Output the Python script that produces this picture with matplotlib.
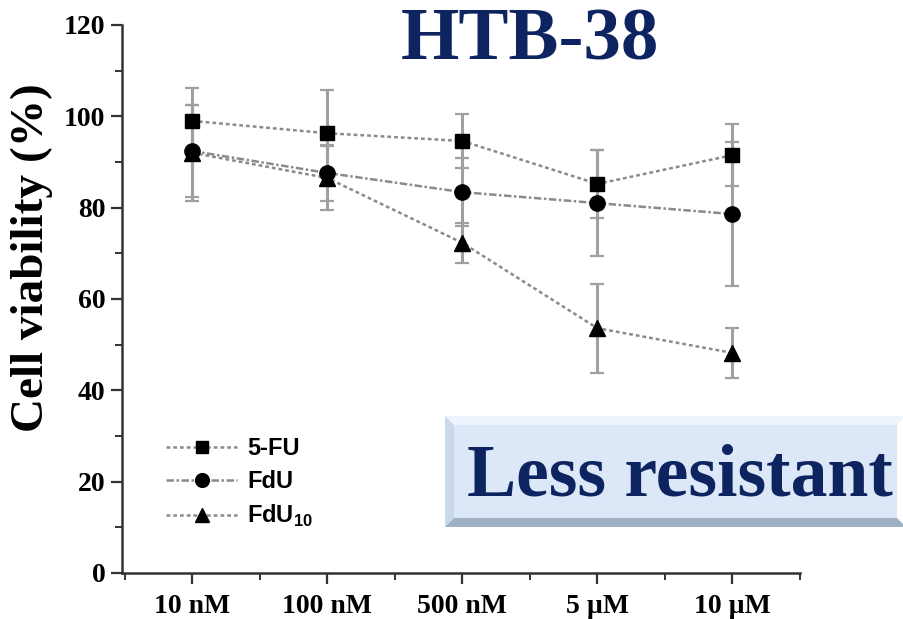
import matplotlib
matplotlib.use("Agg")
import matplotlib.pyplot as plt
from matplotlib.lines import Line2D
from matplotlib.patches import Polygon, Rectangle
import numpy as np

# ---- data ----
concentrations = ["10 nM", "100 nM", "500 nM", "5 µM", "10 µM"]
fu5_mean = [99.0, 96.3, 94.6, 85.2, 91.5]
fu5_err = [7.3, 9.5, 6.0, 7.4, 6.8]
fdu_mean = [92.4, 87.6, 83.4, 81.0, 78.6]
fdu_err = [10.0, 6.2, 7.4, 11.6, 15.7]
fdu10_mean = [92.0, 86.5, 72.3, 53.6, 48.2]
fdu10_err = [10.5, 7.0, 4.4, 9.7, 5.5]
series_labels = ["5-FU", "FdU", "FdU$_{\\mathrm{10}}$"]
title_text = "HTB-38"
box_text = "Less resistant"
ylabel_text = "Cell viability (%)"

plt.rcParams['mathtext.fontset'] = 'custom'
plt.rcParams['mathtext.rm'] = 'Liberation Sans:bold'
plt.rcParams['mathtext.bf'] = 'Liberation Sans:bold'

W, H = 904, 619
fig = plt.figure(figsize=(W / 100, H / 100), dpi=100)
ax = fig.add_axes([122 / W, 1 - 573 / H, (800 - 122) / W, (573 - 25) / H])

x = np.arange(len(concentrations))
line_col = "#8a8a8a"
err_col = "#a0a0a0"

styles = [
    (fu5_mean, fu5_err, "s", (0, (1.5, 1.2)), 10),
    (fdu_mean, fdu_err, "o", (0, (3, 1, 1, 1)), 11),
    (fdu10_mean, fdu10_err, "^", (0, (1.5, 1.2)), 11.5),
]
for mean, err, mk, ls, ms in styles:
    ax.errorbar(x, mean, yerr=err, fmt="none", ecolor=err_col, elinewidth=2.2,
                capsize=5, capthick=1.6, zorder=2)
    ax.plot(x, mean, color=line_col, lw=1.8, linestyle=ls, zorder=3)
    ax.plot(x, mean, linestyle="none", marker=mk, color="black", ms=ms, zorder=4)

ax.set_xlim(-0.52, 4.5)
ax.set_ylim(0, 120)
ax.set_xticks(x)
ax.set_xticklabels(concentrations)
ax.set_xticks(np.arange(-0.5, 4.6, 1.0), minor=True)
ax.set_yticks(np.arange(0, 121, 20))
ax.set_yticks(np.arange(10, 120, 20), minor=True)

for s in ["top", "right"]:
    ax.spines[s].set_visible(False)
for s in ["left", "bottom"]:
    ax.spines[s].set_linewidth(1.8)
    ax.spines[s].set_color("#333333")

ax.tick_params(axis="both", which="major", length=8, width=1.6, color="#333333")
ax.tick_params(axis="both", which="minor", length=5, width=1.4, color="#333333")
ax.tick_params(axis="x", pad=7)
ax.tick_params(axis="y", pad=4)
for lab in ax.get_xticklabels() + ax.get_yticklabels():
    lab.set_fontfamily("Liberation Serif")
    lab.set_fontweight("bold")
    lab.set_fontsize(20)

fig.text(32 / W, 1 - 258 / H, ylabel_text, rotation=90, ha="center", va="center",
         fontfamily="Liberation Serif", fontweight="bold", fontsize=34)

# title
fig.text(530 / W, 1 - 60 / H, title_text, ha="center", va="baseline",
         fontfamily="Liberation Serif", fontweight="bold", fontsize=54, color="#0d2461")

# legend
handles = []
for mean, err, mk, ls, ms in styles:
    handles.append(Line2D([0], [0], color=line_col, lw=1.8, linestyle=ls,
                          marker=mk, markerfacecolor="black", markeredgecolor="black",
                          ms=ms * 0.9))
leg = ax.legend(handles, series_labels, loc="upper left",
                bbox_to_anchor=((145 - 122) / (800 - 122), (573 - 416) / (573 - 25)),
                frameon=False, handlelength=3.0, handletextpad=0.42, labelspacing=0.42,
                prop={"family": "Liberation Sans", "weight": "bold", "size": 17})

# "Less resistant" beveled box (figure pixel coords)
def fx(px):
    return px / W

def fy(py):
    return 1 - py / H

x0, x1, y0, y1, b = 445, 906, 416, 527, 9
fig.patches.append(Polygon([(fx(x0), fy(y0)), (fx(x1), fy(y0)), (fx(x1 - b), fy(y0 + b)),
                            (fx(x0 + b), fy(y0 + b))], closed=True, transform=fig.transFigure,
                           facecolor="#eef4fc", edgecolor="none", zorder=5))
fig.patches.append(Polygon([(fx(x0), fy(y0)), (fx(x0 + b), fy(y0 + b)), (fx(x0 + b), fy(y1 - b)),
                            (fx(x0), fy(y1))], closed=True, transform=fig.transFigure,
                           facecolor="#c9d8ea", edgecolor="none", zorder=5))
fig.patches.append(Polygon([(fx(x0), fy(y1)), (fx(x0 + b), fy(y1 - b)), (fx(x1 - b), fy(y1 - b)),
                            (fx(x1), fy(y1))], closed=True, transform=fig.transFigure,
                           facecolor="#9fb0c4", edgecolor="none", zorder=5))
fig.patches.append(Rectangle((fx(x0 + b), fy(y1 - b)), fx(x1 - x0 - 2 * b), (y1 - y0 - 2 * b) / H,
                             transform=fig.transFigure, facecolor="#dce8f8", edgecolor="none",
                             zorder=5))
fig.text(467 / W, 1 - 496 / H, box_text, ha="left", va="baseline",
         fontfamily="Liberation Serif", fontweight="bold", fontsize=53, color="#0d2461",
         zorder=6)

fig.savefig("out.png", dpi=100)
